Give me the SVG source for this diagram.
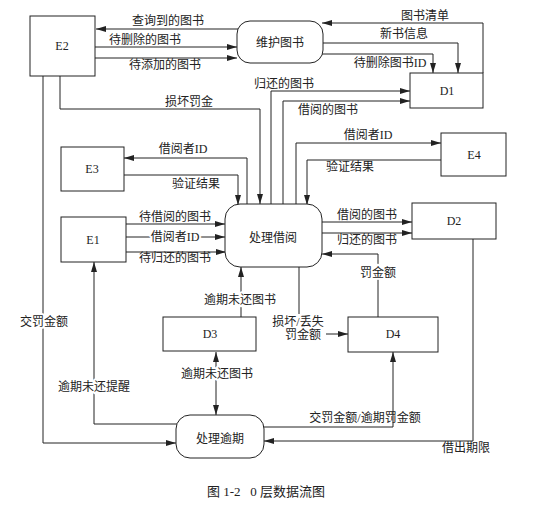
<svg xmlns="http://www.w3.org/2000/svg" width="555" height="512" viewBox="0 0 555 512">
<style>
text{font-family:"Liberation Serif","Noto Sans CJK SC",serif;font-size:12px;fill:#222;text-anchor:middle}
.box{fill:#fff;stroke:#222;stroke-width:1}
.c path{fill:none;stroke:#222;stroke-width:1}
.h{stroke:#fff;stroke-width:4px;paint-order:stroke;stroke-linejoin:round}
.cap{white-space:pre;font-size:13px}
</style>
<defs>
<marker id="a" viewBox="0 0 10 6" refX="10" refY="3" markerWidth="10" markerHeight="6" markerUnits="userSpaceOnUse" orient="auto"><path d="M0,0 L10,3 L0,6 Z" fill="#222"/></marker>
<marker id="s" viewBox="0 0 10 6" refX="0" refY="3" markerWidth="10" markerHeight="6" markerUnits="userSpaceOnUse" orient="auto"><path d="M10,0 L0,3 L10,6 Z" fill="#222"/></marker>
</defs>
<rect width="555" height="512" fill="#fff"/>
<g class="c" id="connectors">
<path d="M239,29 H96" marker-end="url(#a)"/>
<path d="M95,47 H237" marker-end="url(#a)"/>
<path d="M95,58 H237" marker-end="url(#a)"/>
<path d="M483,73 V23 H322" marker-end="url(#a)"/>
<path d="M323,43 H458 V73" marker-end="url(#a)"/>
<path d="M321,54 H433 V73" marker-end="url(#a)"/>
<path d="M271,204 V91 H410" marker-end="url(#a)"/>
<path d="M283,204 V101 H410" marker-end="url(#a)"/>
<path d="M60,76 V109 H260 V204" marker-end="url(#a)"/>
<path d="M43,76 V443 H176" marker-end="url(#a)"/>
<path d="M247,204 V158 H124" marker-end="url(#a)"/>
<path d="M124,175 H238 V205" marker-end="url(#a)"/>
<path d="M296,204 V143 H441" marker-end="url(#a)"/>
<path d="M441,160 H307 V205" marker-end="url(#a)"/>
<path d="M126,224 H225" marker-end="url(#a)"/>
<path d="M126,237 H225" marker-end="url(#a)"/>
<path d="M126,252 H226" marker-end="url(#a)"/>
<path d="M322,222 H412" marker-end="url(#a)"/>
<path d="M322,233 H412" marker-end="url(#a)"/>
<path d="M378,317 V254 H322" marker-end="url(#a)"/>
<path d="M473,239 V441 H264" marker-end="url(#a)"/>
<path d="M263,427 H393 V352" marker-end="url(#a)"/>
<path d="M299,267 V314"/>
<path d="M326,334 H348" marker-end="url(#a)"/>
<path d="M241,317 V267" marker-end="url(#a)"/>
<path d="M216,352 V415" marker-start="url(#s)" marker-end="url(#a)"/>
<path d="M177,424 H94 V262" marker-end="url(#a)"/>
</g>
<g id="E2"><rect class="box" x="30" y="16" width="65" height="60"/><text x="62" y="50">E2</text></g>
<g id="maintain"><rect class="box" x="237" y="21" width="86" height="42" rx="13"/><text x="280" y="47">维护图书</text></g>
<g id="D1"><rect class="box" x="410" y="73" width="73" height="35"/><text x="447" y="95">D1</text></g>
<g id="E3"><rect class="box" x="61" y="147" width="63" height="44"/><text x="92" y="173">E3</text></g>
<g id="E4"><rect class="box" x="441" y="133" width="65" height="43"/><text x="474" y="159">E4</text></g>
<g id="borrow"><rect class="box" x="225" y="204" width="97" height="63" rx="15"/><text x="273" y="242">处理借阅</text></g>
<g id="E1"><rect class="box" x="61" y="217" width="65" height="45"/><text x="93" y="244">E1</text></g>
<g id="D2"><rect class="box" x="412" y="203" width="84" height="36"/><text x="454" y="225">D2</text></g>
<g id="D3"><rect class="box" x="163" y="317" width="93" height="34"/><text x="210" y="338">D3</text></g>
<g id="D4"><rect class="box" x="348" y="317" width="90" height="35"/><text x="393" y="338">D4</text></g>
<g id="overdue"><rect class="box" x="176" y="415" width="88" height="43" rx="14"/><text x="220" y="443">处理逾期</text></g>
<g id="labels">
<text x="168" y="25">查询到的图书</text>
<text x="145" y="44">待删除的图书</text>
<text x="165" y="69">待添加的图书</text>
<text x="425" y="20">图书清单</text>
<text x="404" y="38">新书信息</text>
<text x="390" y="67">待删除图书ID</text>
<text x="284" y="88">归还的图书</text>
<text x="328" y="114">借阅的图书</text>
<text x="189" y="106">损坏罚金</text>
<text x="183" y="153">借阅者ID</text>
<text x="196" y="188">验证结果</text>
<text x="368" y="139">借阅者ID</text>
<text x="350" y="171">验证结果</text>
<text x="175" y="221">待借阅的图书</text>
<text class="h" x="175" y="241">借阅者ID</text>
<text x="175" y="262">待归还的图书</text>
<text x="367" y="219">借阅的图书</text>
<text x="367" y="244">归还的图书</text>
<text class="h" x="378" y="277">罚金额</text>
<text class="h" x="44" y="326">交罚金额</text>
<text class="h" x="240" y="304">逾期未还图书</text>
<text x="298" y="326">损坏/丢失</text>
<text x="303" y="339">罚金额</text>
<text class="h" x="217" y="378">逾期未还图书</text>
<text class="h" x="94" y="391">逾期未还提醒</text>
<text x="365" y="422">交罚金额/逾期罚金额</text>
<text x="466" y="452">借出期限</text>
<text class="cap" x="266" y="496">图 1-2   0 层数据流图</text>
</g>
</svg>
